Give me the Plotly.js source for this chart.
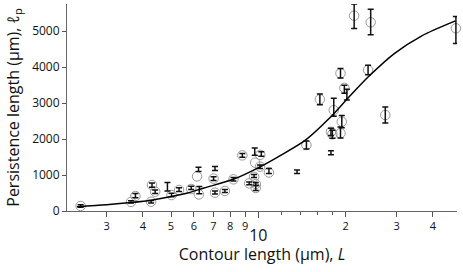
<!DOCTYPE html>
<html>
<head>
<meta charset="utf-8">
<script src="https://cdn.plot.ly/plotly-3.0.1.min.js"></script>
<style>html,body{margin:0;padding:0;background:#fff;}#chart{width:463px;height:272px;}</style>
</head>
<body>
<div id="chart"></div>
<script>
// Error-bar measurements: contour length L (µm), persistence length (µm), error (µm)
const barL   = [2.44, 3.64, 3.77, 4.27, 4.30, 4.41, 4.86, 5.02, 5.33, 5.87, 6.22, 6.26, 7.01, 7.09, 7.09, 7.67, 8.21, 8.81, 9.72, 10.24, 10.14, 10.88, 9.67, 9.30, 9.80, 9.80, 13.6, 14.65, 17.8, 16.3, 18.2, 19.2, 19.8, 20.2, 19.4, 19.2, 18.0, 17.8, 23.9, 27.4, 21.4, 24.4, 48.0];
const barLp  = [139, 252, 425, 258, 718, 536, 675, 444, 595, 640, 1158, 580, 900, 1180, 515, 556, 880, 1545, 1647, 1583, 1230, 1110, 972, 769, 750, 640, 1092, 1833, 1620, 3100, 2880, 3825, 3380, 3230, 2480, 2180, 2130, 2200, 3917, 2667, 5410, 5250, 5030];
const barErr = [35, 30, 60, 35, 60, 50, 120, 50, 50, 45, 60, 100, 50, 55, 40, 40, 50, 50, 100, 60, 50, 70, 40, 40, 40, 70, 50, 110, 55, 150, 250, 130, 110, 150, 170, 150, 110, 100, 130, 220, 338, 357, 375];

// Open-circle markers
const circleL  = [2.44, 3.64, 3.77, 4.27, 4.30, 4.41, 5.02, 5.33, 5.87, 6.15, 6.24, 7.01, 7.09, 7.67, 8.21, 8.81, 9.75, 10.15, 10.14, 10.88, 9.67, 9.30, 9.80, 9.80, 14.65, 16.3, 18.2, 19.2, 19.8, 19.4, 19.2, 18.0, 17.8, 23.9, 27.4, 21.4, 24.4, 48.0];
const circleLp = [139, 252, 415, 258, 722, 536, 444, 583, 611, 962, 460, 900, 508, 556, 880, 1545, 1342, 1560, 1230, 1070, 950, 769, 750, 640, 1833, 3100, 2800, 3825, 3420, 2480, 2160, 2130, 2200, 3917, 2667, 5425, 5241, 5075];

// Fitted curve
const fitL  = [2.37, 3.0, 3.64, 4.28, 5.0, 5.7, 6.5, 8.2, 10.1, 11.9, 14.5, 17.5, 20.4, 23.9, 29.5, 36.5, 47.8];
const fitLp = [118, 175, 235, 300, 400, 500, 640, 880, 1220, 1540, 1960, 2560, 3140, 3720, 4380, 4860, 5280];

const xTickVals = [3, 4, 5, 6, 7, 8, 9, 20, 30, 40];
const xTickText = ['3', '4', '5', '6', '7', '8', '9', '2', '3', '4'];
const xDecadeVals = [10];
const xDecadeText = ['10'];
const xMinorVals = [12, 14, 16, 18];
const yTickVals = [0, 1000, 2000, 3000, 4000, 5000];

const FONT = 'Open Sans, Noto Sans, sans-serif';
const XRANGE = [0.3404, 1.685];

const traces = [
  {
    x: circleL, y: circleLp, type: 'scatter', mode: 'markers',
    marker: {symbol: 'circle-open', size: 9.5, color: '#9a9a9a', line: {width: 1, color: '#9a9a9a'}},
    cliponaxis: false, hoverinfo: 'skip'
  },
  {
    x: barL, y: barLp, type: 'scatter', mode: 'markers',
    marker: {size: 1, color: 'rgba(0,0,0,0)'},
    error_y: {type: 'data', array: barErr, visible: true, color: '#111', thickness: 1.5, width: 3},
    cliponaxis: false, hoverinfo: 'skip'
  },
  {
    x: fitL, y: fitLp, type: 'scatter', mode: 'lines',
    line: {color: '#000', width: 1.5, shape: 'spline', smoothing: 0.8},
    cliponaxis: false, hoverinfo: 'skip'
  },
  {
    x: fitL, y: fitLp, xaxis: 'x2', type: 'scatter', mode: 'lines',
    line: {color: 'rgba(0,0,0,0)', width: 0}, hoverinfo: 'skip'
  }
];

const layout = {
  width: 463, height: 272,
  margin: {l: 67, r: 6, t: 4, b: 61},
  paper_bgcolor: '#fff', plot_bgcolor: '#fff',
  showlegend: false,
  font: {family: FONT, color: '#111'},
  xaxis: {
    type: 'log',
    range: XRANGE,
    tickmode: 'array', tickvals: xTickVals, ticktext: xTickText,
    tickfont: {size: 11, color: '#111'},
    ticks: 'outside', ticklen: 5, tickwidth: 1, tickcolor: '#555',
    minor: {tickmode: 'array', tickvals: xMinorVals, ticks: 'outside', ticklen: 3, tickcolor: '#555', showgrid: false},
    showline: true, linecolor: '#666', linewidth: 1,
    showgrid: false, zeroline: false,
    title: {text: 'Contour length (µm), <i>L</i>', font: {size: 16, color: '#111'}, standoff: 16}
  },
  xaxis2: {
    type: 'log',
    range: XRANGE,
    overlaying: 'x', side: 'bottom', anchor: 'y',
    tickmode: 'array', tickvals: xDecadeVals, ticktext: xDecadeText,
    tickfont: {size: 16, color: '#111'},
    ticks: 'outside', ticklen: 6, tickwidth: 1, tickcolor: '#555',
    ticklabelstandoff: 4,
    showline: false, showgrid: false, zeroline: false
  },
  yaxis: {
    range: [0, 5750],
    tickmode: 'array', tickvals: yTickVals,
    tickfont: {size: 12, color: '#111'},
    ticks: 'outside', ticklen: 4, tickwidth: 1, tickcolor: '#555',
    showline: true, linecolor: '#666', linewidth: 1,
    showgrid: false, zeroline: false,
    title: {text: 'Persistence length (µm), <i>ℓ</i><sub>p</sub>', font: {size: 16, color: '#111'}, standoff: 8}
  }
};

Plotly.newPlot('chart', traces, layout, {staticPlot: true, displayModeBar: false});
</script>
</body>
</html>
